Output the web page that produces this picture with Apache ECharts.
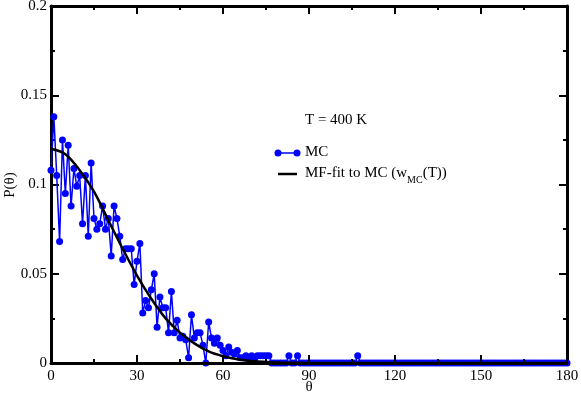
<!DOCTYPE html>
<html>
<head>
<meta charset="utf-8">
<script src="https://cdn.jsdelivr.net/npm/echarts@6/dist/echarts.min.js"></script>
<style>html,body{margin:0;padding:0;background:#fff}#c{width:581px;height:396px}</style>
</head>
<body>
<div id="c"></div>
<script>
// MC histogram values, one per degree (theta = index, 0..180)
var mcValues = [
0.108,0.138,0.105,0.068,0.125,0.095,0.122,0.088,0.109,0.099,
0.105,0.078,0.105,0.071,0.112,0.081,0.075,0.078,0.088,0.075,
0.081,0.060,0.088,0.081,0.071,0.058,0.064,0.064,0.064,0.044,
0.057,0.067,0.028,0.035,0.031,0.041,0.050,0.020,0.037,0.031,
0.031,0.017,0.040,0.017,0.024,0.014,0.015,0.013,0.003,0.027,
0.014,0.017,0.017,0.010,0.000,0.023,0.014,0.011,0.014,0.010,
0.007,0.004,0.009,0.006,0.005,0.007,0.003,0.003,0.004,0.002,
0.004,0.002,0.004,0.004,0.004,0.004,0.004,0,0,0,
0,0,0,0.004,0,0,0.004,0,0,0,
0,0,0,0,0,0,0,0,0,0,
0,0,0,0,0,0,0,0.004,0,0,
0,0,0,0,0,0,0,0,0,0,
0,0,0,0,0,0,0,0,0,0,
0,0,0,0,0,0,0,0,0,0,
0,0,0,0,0,0,0,0,0,0,
0,0,0,0,0,0,0,0,0,0,
0,0,0,0,0,0,0,0,0,0,
0,0,0,0,0,0,0,0,0,0,
0
];
// Mean-field fit curve
var fitTheta  = [0, 5, 10, 15, 20, 25, 30, 35, 40, 45, 50, 55, 60, 65, 70, 75, 80, 85, 90, 180];
var fitValues = [0.120, 0.117, 0.108, 0.096, 0.080, 0.064, 0.049, 0.036, 0.025, 0.017, 0.011, 0.0065, 0.0038, 0.0021, 0.0011, 0.0006, 0.0003, 0.0001, 0, 0];
var xTicks = {min: 0, max: 180, interval: 30};
var yTicks = {min: 0, max: 0.2, interval: 0.05};
var axisNames = {x: 'θ', y: 'P(θ)'};
var seriesNames = ['MC', 'MF-fit to MC (w', 'MC', '(T))'];
var annotation = 'T = 400 K';

var FONT = 'Liberation Serif';
var mcData = mcValues.map(function (v, i) { return [i, v]; });
var fitData = fitTheta.map(function (t, i) { return [t, fitValues[i]]; });

var chart = echarts.init(document.getElementById('c'), null, {renderer: 'canvas'});
var tickIn = {show: true, inside: true, length: 8, lineStyle: {color: '#000', width: 2}};
var minorIn = {show: true, splitNumber: 2, length: 4, lineStyle: {color: '#000', width: 2}};
var axLine = {show: true, onZero: false, lineStyle: {color: '#000', width: 3}};
var lbl = {color: '#000', fontFamily: FONT, fontSize: 15};

chart.setOption({
  animation: false,
  backgroundColor: '#fff',
  grid: {left: 51, right: 14, top: 6, bottom: 33, containLabel: false, outerBoundsMode: 'none'},
  xAxis: [
    {type: 'value', min: xTicks.min, max: xTicks.max, interval: xTicks.interval, position: 'bottom', z: 5,
     axisLine: axLine, axisTick: tickIn, minorTick: minorIn, splitLine: {show: false},
     axisLabel: Object.assign({margin: 6}, lbl)},
    {type: 'value', min: xTicks.min, max: xTicks.max, interval: xTicks.interval, position: 'top',
     axisLine: axLine, axisTick: tickIn, minorTick: minorIn, splitLine: {show: false}, axisLabel: {show: false}}
  ],
  yAxis: [
    {type: 'value', min: yTicks.min, max: yTicks.max, interval: yTicks.interval, position: 'left',
     axisLine: axLine, axisTick: tickIn, minorTick: minorIn, splitLine: {show: false},
     axisLabel: Object.assign({margin: 4}, lbl)},
    {type: 'value', min: yTicks.min, max: yTicks.max, interval: yTicks.interval, position: 'right',
     axisLine: axLine, axisTick: tickIn, minorTick: minorIn, splitLine: {show: false}, axisLabel: {show: false}}
  ],
  series: [
    {type: 'line', name: seriesNames[0], data: mcData, clip: false, z: 2,
     symbol: 'circle', symbolSize: 7, showAllSymbol: true,
     itemStyle: {color: '#0000ff'}, lineStyle: {color: '#0000ff', width: 1.5}},
    {type: 'line', name: 'fit', data: fitData, smooth: 0.35, symbol: 'none', z: 3,
     lineStyle: {color: '#000', width: 2.5}}
  ],
  graphic: [
    {type: 'text', x: 309, y: 387, style: {text: axisNames.x, fill: '#000', font: '15px ' + FONT, align: 'center', verticalAlign: 'middle'}},
    {type: 'text', x: 10, y: 185, rotation: Math.PI / 2, style: {text: axisNames.y, fill: '#000', font: '15px ' + FONT, align: 'center', verticalAlign: 'middle'}},
    {type: 'text', left: 305, top: 113, style: {text: annotation, fill: '#000', font: '15px ' + FONT}},
    {type: 'line', shape: {x1: 278, y1: 153, x2: 297, y2: 153}, style: {stroke: '#0000ff', lineWidth: 1.5}},
    {type: 'circle', shape: {cx: 278, cy: 153, r: 3.5}, style: {fill: '#0000ff'}},
    {type: 'circle', shape: {cx: 297, cy: 153, r: 3.5}, style: {fill: '#0000ff'}},
    {type: 'text', left: 305, top: 145, style: {text: seriesNames[0], fill: '#000', font: '15px ' + FONT}},
    {type: 'line', shape: {x1: 278, y1: 174, x2: 297, y2: 174}, style: {stroke: '#000', lineWidth: 2.5}},
    {type: 'text', left: 305, top: 166, style: {
      text: '{n|' + seriesNames[1] + '}{s|' + seriesNames[2] + '}{n|' + seriesNames[3] + '}',
      rich: {
        n: {fill: '#000', fontFamily: FONT, fontSize: 15, lineHeight: 16, verticalAlign: 'top'},
        s: {fill: '#000', fontFamily: FONT, fontSize: 10, lineHeight: 10, padding: [9, 0, 0, 0], verticalAlign: 'top'}
      }
    }}
  ]
});
</script>
</body>
</html>
